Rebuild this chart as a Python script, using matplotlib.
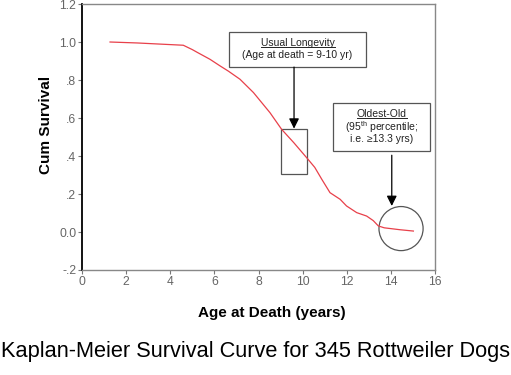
import matplotlib
matplotlib.use("Agg")
import matplotlib.pyplot as plt
from matplotlib.patches import Rectangle, Ellipse

plt.rcParams['font.family'] = ['Liberation Sans', 'DejaVu Sans']
plt.rcParams['mathtext.fontset'] = 'custom'
plt.rcParams['mathtext.rm'] = 'Liberation Sans'
plt.rcParams['mathtext.it'] = 'Liberation Sans:italic'
plt.rcParams['mathtext.bf'] = 'Liberation Sans:bold'

# Kaplan-Meier curve
age = [1.27, 2.5, 3.54, 4.59, 5.0, 5.2, 5.8, 6.26, 6.63, 7.16, 7.77, 8.52,
       9.05, 9.6, 10.19, 10.55, 10.87, 11.24, 11.7, 11.99, 12.45, 12.9,
       13.2, 13.43, 13.7, 14.41, 15.02]
surv = [1.0, 0.995, 0.989, 0.983, 0.96, 0.947, 0.909, 0.874, 0.847, 0.804,
        0.734, 0.628, 0.54, 0.47, 0.39, 0.34, 0.277, 0.207, 0.172, 0.137,
        0.102, 0.084, 0.06, 0.032, 0.022, 0.012, 0.005]

x_ticks = [0, 2, 4, 6, 8, 10, 12, 14, 16]
y_ticks = [-0.2, 0.0, 0.2, 0.4, 0.6, 0.8, 1.0, 1.2]
y_labels = ['-.2', '0.0', '.2', '.4', '.6', '.8', '1.0', '1.2']

fig = plt.figure(figsize=(5.11, 3.75), dpi=100)
ax = fig.add_axes([0.1605, 0.28, 0.6908, 0.7093])

ax.plot(age, surv, color='#e8404a', linewidth=0.9)

ax.set_xlim(0, 16)
ax.set_ylim(-0.2, 1.2)
ax.set_xticks(x_ticks)
ax.set_yticks(y_ticks)
ax.set_yticklabels(y_labels)
ax.tick_params(direction='out', length=3, width=0.8, colors='#777777',
               labelsize=8.7, labelcolor='#666666', pad=1)

for side in ['top', 'right', 'bottom']:
    ax.spines[side].set_color('#888888')
    ax.spines[side].set_linewidth(1.0)
ax.spines['left'].set_color('black')
ax.spines['left'].set_linewidth(1.3)

# ylabel / xlabel / title
fig.text(46.5 / 511, 1 - 125 / 375, 'Cum Survival', rotation=90,
         fontsize=11, fontweight='bold', ha='center', va='center')
fig.text(271.5 / 511, 1 - 313 / 375, 'Age at Death (years)',
         fontsize=11, fontweight='bold', ha='center', va='center')
fig.text(0.5, 1 - 352 / 375, 'Kaplan-Meier Survival Curve for 345 Rottweiler Dogs',
         fontsize=15.7, ha='center', va='center')

arrow = dict(arrowstyle='-|>,head_length=0.6,head_width=0.3',
             color='black', linewidth=0.9, shrinkA=0, shrinkB=0)

# "Usual Longevity" annotation
ax.add_patch(Rectangle((6.68, 0.868), 12.86 - 6.68, 1.055 - 0.868,
                       fill=False, edgecolor='#555555', linewidth=0.9))
t1 = ax.text(9.77, 0.997, 'Usual Longevity', fontsize=7.5,
             ha='center', va='center', color='#222222')
ax.text(9.77, 0.930, '(Age at death = 9-10 yr)', fontsize=7.5,
        ha='center', va='center', color='#222222')
ax.annotate('', xy=(9.61, 0.544), xytext=(9.61, 0.868), arrowprops=arrow)
ax.add_patch(Rectangle((9.02, 0.304), 10.21 - 9.02, 0.544 - 0.304,
                       fill=False, edgecolor='#555555', linewidth=0.9))

# "Oldest-Old" annotation
ax.add_patch(Rectangle((11.38, 0.426), 15.79 - 11.38, 0.679 - 0.426,
                       fill=False, edgecolor='#555555', linewidth=0.9))
t2 = ax.text(13.58, 0.619, 'Oldest-Old', fontsize=7.5,
             ha='center', va='center', color='#222222')
ax.text(13.58, 0.553, r'(95$^{\mathrm{th}}$ percentile;', fontsize=7.5,
        ha='center', va='center', color='#222222')
ax.text(13.58, 0.488, 'i.e. \u226513.3 yrs)', fontsize=7.5,
        ha='center', va='center', color='#222222')
ax.annotate('', xy=(14.04, 0.137), xytext=(14.04, 0.404), arrowprops=arrow)
ax.add_patch(Ellipse((14.46, 0.018), 2.0, 0.232, fill=False,
                     edgecolor='#555555', linewidth=0.9))

# underline the two headings
fig.canvas.draw()
renderer = fig.canvas.get_renderer()
inv = ax.transData.inverted()
for t in [t1, t2]:
    bb = t.get_window_extent(renderer)
    (x0, y0), (x1, _) = inv.transform([(bb.x0, bb.y0 + 1), (bb.x1, bb.y0 + 1)])
    ax.plot([x0, x1], [y0, y0], color='#222222', linewidth=0.7)

fig.savefig('out.png', dpi=100)
